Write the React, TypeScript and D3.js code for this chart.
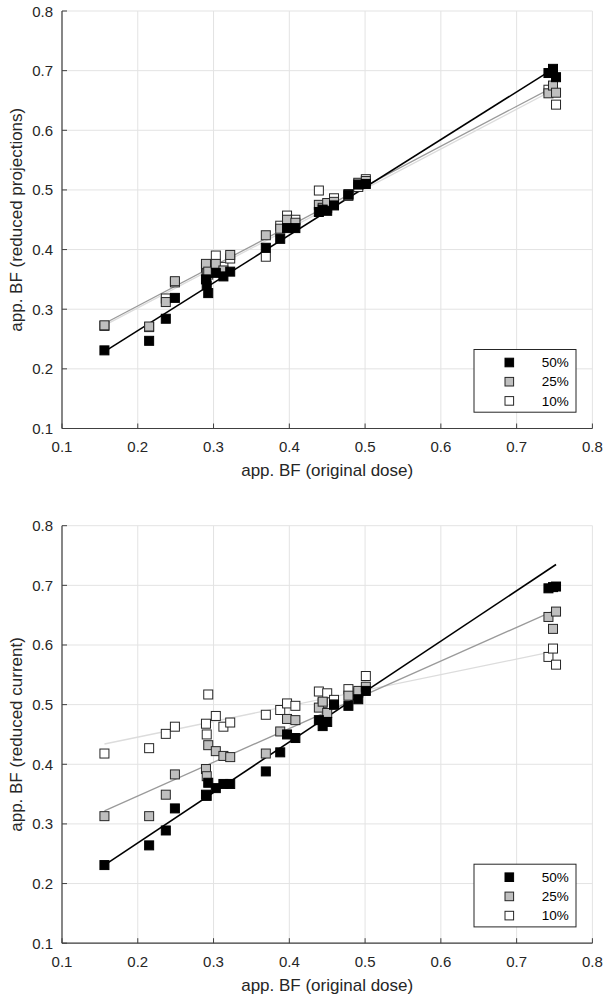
import React from "react";
import * as d3 from "d3";

// original-dose apparent BF (shared x values)
const doseX = [0.156, 0.215, 0.237, 0.249, 0.29, 0.291, 0.293, 0.303, 0.313, 0.322, 0.369, 0.388, 0.397, 0.408, 0.439, 0.444, 0.45, 0.459, 0.478, 0.491, 0.501, 0.742, 0.748, 0.752];

// top panel: reduced projections
const projections50 = [0.231, 0.247, 0.284, 0.319, 0.35, 0.34, 0.327, 0.361, 0.355, 0.363, 0.403, 0.418, 0.436, 0.436, 0.463, 0.467, 0.465, 0.474, 0.492, 0.509, 0.51, 0.696, 0.703, 0.689];
const projections25 = [0.273, 0.271, 0.312, 0.347, 0.376, 0.36, 0.363, 0.376, 0.365, 0.391, 0.424, 0.435, 0.45, 0.445, 0.475, 0.47, 0.478, 0.48, 0.493, 0.512, 0.515, 0.662, 0.675, 0.663];
const projections10 = [0.272, 0.27, 0.318, 0.345, 0.37, 0.365, 0.358, 0.39, 0.371, 0.385, 0.388, 0.44, 0.457, 0.45, 0.499, 0.472, 0.47, 0.486, 0.49, 0.505, 0.518, 0.668, 0.672, 0.643];

// bottom panel: reduced current
const current50 = [0.231, 0.264, 0.289, 0.326, 0.349, 0.347, 0.369, 0.36, 0.367, 0.367, 0.388, 0.42, 0.45, 0.444, 0.474, 0.464, 0.471, 0.5, 0.498, 0.509, 0.523, 0.695, 0.697, 0.698];
const current25 = [0.313, 0.313, 0.349, 0.383, 0.392, 0.38, 0.432, 0.422, 0.414, 0.412, 0.418, 0.455, 0.476, 0.474, 0.495, 0.505, 0.486, 0.5, 0.515, 0.523, 0.53, 0.647, 0.627, 0.656];
const current10 = [0.418, 0.427, 0.451, 0.463, 0.468, 0.45, 0.517, 0.481, 0.463, 0.47, 0.483, 0.491, 0.502, 0.498, 0.522, 0.503, 0.519, 0.508, 0.526, 0.52, 0.548, 0.58, 0.594, 0.567];

// linear fits (50%, 25%, 10%) endpoints over x range
const fitRange = [0.156, 0.752];
const projectionsFitStart = [0.229, 0.276, 0.273];
const projectionsFitEnd = [0.706, 0.675, 0.67];
const currentFitStart = [0.231, 0.322, 0.434];
const currentFitEnd = [0.735, 0.659, 0.59];

const seriesLabels = ["50%", "25%", "10%"];
const tickValues = [0.1, 0.2, 0.3, 0.4, 0.5, 0.6, 0.7, 0.8];
const xAxisLabel = "app. BF (original dose)";
const topYLabel = "app. BF (reduced projections)";
const bottomYLabel = "app. BF (reduced current)";

const FONT = "'Liberation Sans', Arial, Helvetica, sans-serif";
const markerFill = ["#000000", "#bfbfbf", "#ffffff"];
const markerStroke = ["#000000", "#262626", "#262626"];
const lineColor = ["#000000", "#9a9a9a", "#dcdcdc"];
const lineWidth = [1.6, 1.3, 1.3];

const LEFT = 62;
const RIGHT = 592.4;
const PH = 417.5;
const MS = 9;

function Panel({ top, yLabel, series, fitStart, fitEnd }: { top: number; yLabel: string; series: number[][]; fitStart: number[]; fitEnd: number[] }) {
  const x = d3.scaleLinear().domain([0.1, 0.8]).range([LEFT, RIGHT]);
  const y = d3.scaleLinear().domain([0.1, 0.8]).range([top + PH, top]);
  const line = d3.line<[number, number]>().x((d) => x(d[0])).y((d) => y(d[1]));
  const bottom = top + PH;
  const axisColor = "#404040";
  const drawOrder = [2, 1, 0];
  const legX0 = 474, legX1 = 576;
  const legY1 = bottom - 16.3, legY0 = legY1 - 62.7;
  return (
    <g>
      {/* grid */}
      {tickValues.map((t) => (
        <line key={"gx" + t} x1={x(t)} x2={x(t)} y1={top} y2={bottom} stroke="#e3e3e3" strokeWidth={1} />
      ))}
      {tickValues.map((t) => (
        <line key={"gy" + t} x1={LEFT} x2={RIGHT} y1={y(t)} y2={y(t)} stroke="#e3e3e3" strokeWidth={1} />
      ))}
      {/* fit lines */}
      {drawOrder.map((i) => (
        <path key={"fit" + i} d={line([[fitRange[0], fitStart[i]], [fitRange[1], fitEnd[i]]]) || ""} stroke={lineColor[i]} strokeWidth={lineWidth[i]} fill="none" />
      ))}
      {/* markers */}
      {drawOrder.map((i) => (
        <g key={"s" + i}>
          {doseX.map((xv, j) => (
            <rect key={j} x={x(xv) - MS / 2} y={y(series[i][j]) - MS / 2} width={MS} height={MS} fill={markerFill[i]} stroke={markerStroke[i]} strokeWidth={1} />
          ))}
        </g>
      ))}
      {/* axes */}
      <line x1={LEFT} x2={LEFT} y1={top} y2={bottom} stroke={axisColor} strokeWidth={1.2} />
      <line x1={LEFT} x2={RIGHT} y1={bottom} y2={bottom} stroke={axisColor} strokeWidth={1.2} />
      {tickValues.map((t) => (
        <g key={"tx" + t}>
          <line x1={x(t)} x2={x(t)} y1={bottom} y2={bottom - 5} stroke={axisColor} strokeWidth={1} />
          <text x={x(t)} y={bottom + 23.4} textAnchor="middle" fontFamily={FONT} fontSize={15} fill="#262626">{t.toFixed(1)}</text>
        </g>
      ))}
      {tickValues.map((t) => (
        <g key={"ty" + t}>
          <line x1={LEFT} x2={LEFT + 5} y1={y(t)} y2={y(t)} stroke={axisColor} strokeWidth={1} />
          <text x={53} y={y(t) + 5.5} textAnchor="end" fontFamily={FONT} fontSize={15} fill="#262626">{t.toFixed(1)}</text>
        </g>
      ))}
      <text x={(LEFT + RIGHT) / 2} y={bottom + 47.4} textAnchor="middle" fontFamily={FONT} fontSize={17} fill="#262626">{xAxisLabel}</text>
      <text transform={`translate(21.5, ${(top + bottom) / 2}) rotate(-90)`} textAnchor="middle" fontFamily={FONT} fontSize={17} fill="#262626">{yLabel}</text>
      {/* legend */}
      <rect x={legX0} y={legY0} width={legX1 - legX0} height={legY1 - legY0} fill="#ffffff" stroke="#262626" strokeWidth={1} />
      {seriesLabels.map((lab, i) => {
        const cy = legY0 + 13 + i * 19.2;
        return (
          <g key={lab}>
            <rect x={509.3 - 4.3} y={cy - 4.3} width={8.6} height={8.6} fill={markerFill[i]} stroke={markerStroke[i]} strokeWidth={1} />
            <text x={568.7} y={cy + 4.6} textAnchor="end" fontFamily={FONT} fontSize={13.5} fill="#000">{lab}</text>
          </g>
        );
      })}
    </g>
  );
}

export default function App() {
  return (
    <svg width={606} height={997} style={{ position: "absolute", left: 0, top: 0, background: "#fff" }}>
      <rect x={0} y={0} width={606} height={997} fill="#fff" />
      <Panel top={11} yLabel={topYLabel} series={[projections50, projections25, projections10]} fitStart={projectionsFitStart} fitEnd={projectionsFitEnd} />
      <Panel top={525.7} yLabel={bottomYLabel} series={[current50, current25, current10]} fitStart={currentFitStart} fitEnd={currentFitEnd} />
    </svg>
  );
}
